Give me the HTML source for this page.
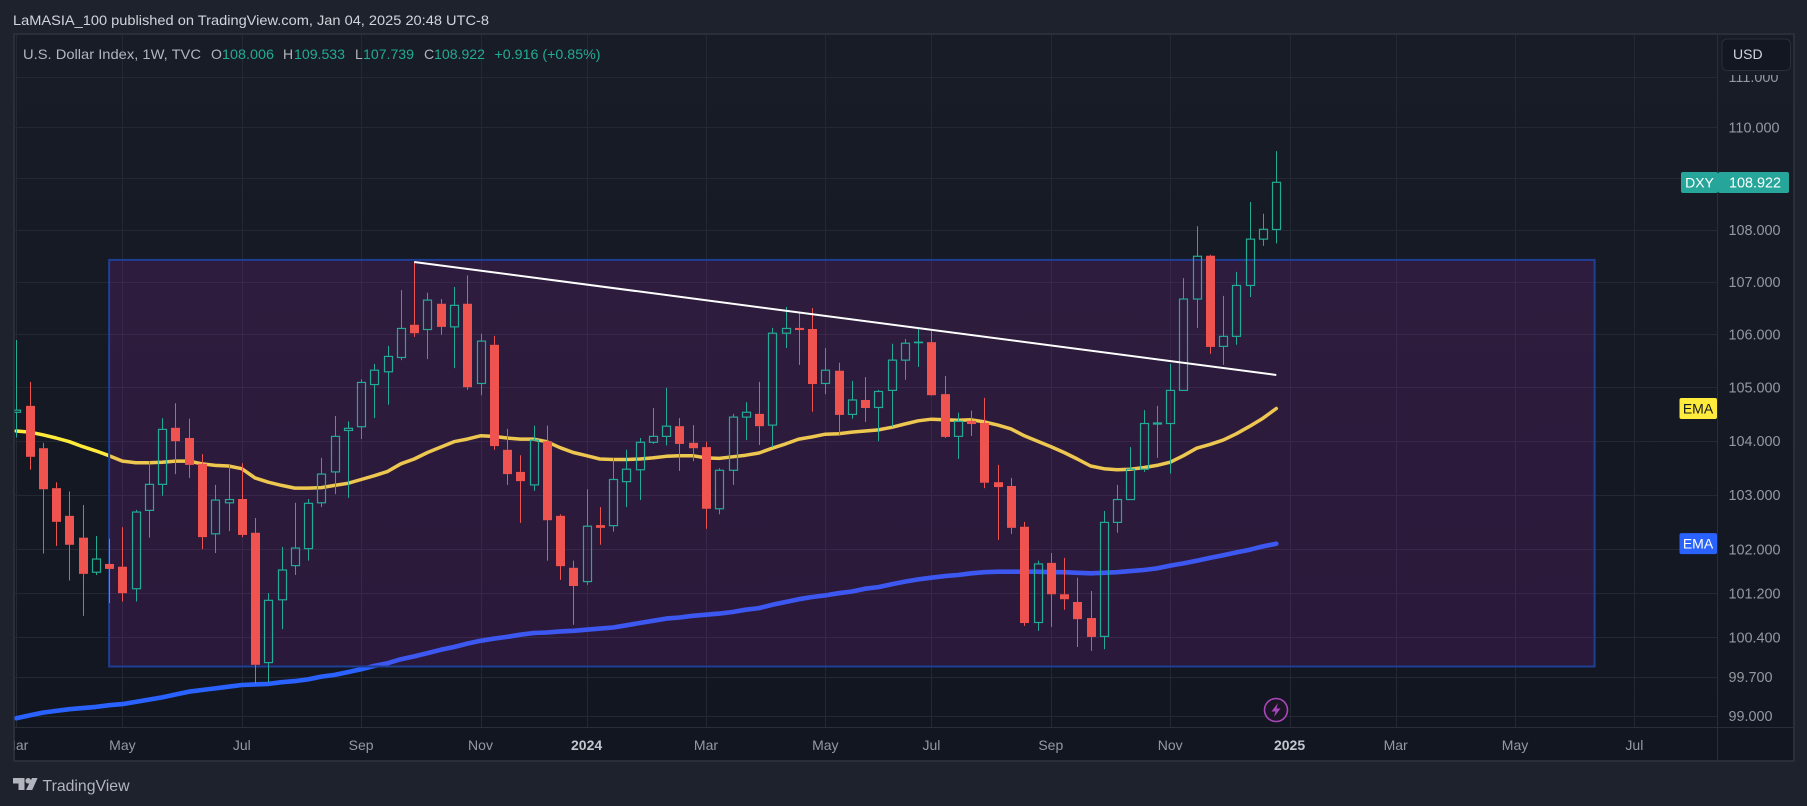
<!DOCTYPE html>
<html lang="en">
<head>
<meta charset="utf-8">
<title>U.S. Dollar Index weekly chart</title>
<style>
html,body{margin:0;padding:0;background:#1e222d;width:1807px;height:806px;overflow:hidden}
svg{display:block}
text{font-family:"Liberation Sans",sans-serif}
</style>
</head>
<body>
<svg id="chart" xmlns="http://www.w3.org/2000/svg" width="1807" height="806" viewBox="0 0 1807 806">
  <defs>
    <linearGradient id="paneBg" x1="0" y1="0" x2="0" y2="1">
      <stop offset="0" stop-color="#181c27"/>
      <stop offset="1" stop-color="#121620"/>
    </linearGradient>
    <clipPath id="paneClip"><rect x="14.5" y="35" width="1702.5" height="692"/></clipPath>
    <clipPath id="timeClip"><rect x="14.5" y="728" width="1702.5" height="32"/></clipPath>
  </defs>
  <rect x="0" y="0" width="1807" height="806" fill="#1e222d"/>
  <text x="13" y="25" font-size="14" fill="#d1d4dc" textLength="476" lengthAdjust="spacingAndGlyphs">LaMASIA_100 published on TradingView.com, Jan 04, 2025 20:48 UTC-8</text>
  <rect x="14" y="34" width="1780" height="727" fill="url(#paneBg)" stroke="#2a2e39" stroke-width="2"/>

  <g id="gridLayer" clip-path="url(#paneClip)"></g>
  <g id="emaLayer" clip-path="url(#paneClip)"></g>
  <g id="zoneLayer" clip-path="url(#paneClip)"></g>
  <g id="candleLayer" clip-path="url(#paneClip)"></g>
  <g id="trendLayer" clip-path="url(#paneClip)"></g>

  <line x1="1717.5" y1="35" x2="1717.5" y2="760" stroke="#2a2e39" stroke-width="1"/>
  <line x1="15" y1="727.5" x2="1793" y2="727.5" stroke="#2a2e39" stroke-width="1"/>
  <g id="priceLabels"></g>
  <g id="timeLabels" clip-path="url(#timeClip)"></g>

  <g font-size="14">
    <text x="23" y="59" fill="#b2b5be" textLength="178" lengthAdjust="spacingAndGlyphs">U.S. Dollar Index, 1W, TVC</text>
    <text x="211" y="59" fill="#b2b5be">O</text>
    <text x="222" y="59" fill="#22ab94" textLength="52" lengthAdjust="spacingAndGlyphs">108.006</text>
    <text x="283" y="59" fill="#b2b5be">H</text>
    <text x="294" y="59" fill="#22ab94" textLength="51" lengthAdjust="spacingAndGlyphs">109.533</text>
    <text x="355" y="59" fill="#b2b5be">L</text>
    <text x="363" y="59" fill="#22ab94" textLength="51" lengthAdjust="spacingAndGlyphs">107.739</text>
    <text x="424" y="59" fill="#b2b5be">C</text>
    <text x="434" y="59" fill="#22ab94" textLength="51" lengthAdjust="spacingAndGlyphs">108.922</text>
    <text x="494.5" y="59" fill="#22ab94" textLength="106" lengthAdjust="spacingAndGlyphs">+0.916 (+0.85%)</text>
  </g>

  <g>
    <rect x="1719" y="36" width="74" height="39" fill="#181c27"/>
    <rect x="1722" y="39" width="68.5" height="31.5" rx="5" fill="#131722" stroke="#2a2e39" stroke-width="1"/>
    <text x="1733" y="59" font-size="14" fill="#d1d4dc">USD</text>
  </g>

  <g>
    <rect x="1681" y="172" width="37" height="21" rx="2" fill="#26a69a"/>
    <text x="1699.5" y="187.5" font-size="14" fill="#ffffff" text-anchor="middle">DXY</text>
    <rect x="1718" y="172" width="71" height="21" rx="2" fill="#26a69a"/>
    <text x="1729" y="187.5" font-size="14.4" fill="#ffffff">108.922</text>
  </g>
  <g id="emaBadges"></g>

  <g>
    <circle cx="1276" cy="710" r="11.5" fill="#1b1626" stroke="#ab47bc" stroke-width="1.6"/>
    <polygon points="1278,703 1271.5,711.5 1275.5,711.5 1274,717 1280.5,708.5 1276.5,708.5" fill="#ab47bc"/>
  </g>

  <g>
    <polygon points="13,778 24.5,778 24.5,790 18.5,790 18.5,783.5 13,783.5" fill="#b2b5be"/>
    <circle cx="28.2" cy="780.8" r="2.8" fill="#b2b5be"/>
    <polygon points="32,778 37.6,778 32.2,790 26,790" fill="#b2b5be"/>
    <text x="42.5" y="791" font-size="16" fill="#b2b5be" textLength="87" lengthAdjust="spacingAndGlyphs">TradingView</text>
  </g>
</svg>

<script>
// ---- data ----
const opens = [104.53,104.65,103.86,103.12,102.61,102.21,101.58,101.73,101.68,101.28,102.71,103.19,104.24,104.05,103.57,102.28,102.85,102.92,102.30,99.95,101.08,101.70,102.01,102.85,103.42,104.19,104.26,105.05,105.29,105.56,106.18,106.09,106.58,106.14,106.58,105.07,105.80,103.83,103.42,103.18,103.99,102.61,101.66,101.41,102.44,102.43,103.24,103.46,103.97,104.08,104.27,103.96,103.88,102.74,103.45,104.44,104.50,104.29,106.02,106.12,106.10,105.07,105.31,104.49,104.76,104.62,104.94,105.51,105.84,105.85,104.87,104.08,104.37,104.33,103.23,103.16,102.41,100.67,101.75,101.18,101.04,100.75,100.42,102.49,102.91,103.47,104.31,104.32,104.94,106.67,107.50,105.77,105.96,106.93,107.82,108.006];
const highs = [105.89,105.10,103.96,103.23,103.06,102.81,102.24,102.19,102.40,102.72,103.62,104.42,104.70,104.41,103.75,103.18,103.55,103.58,102.57,101.20,102.04,102.85,102.92,103.68,104.46,104.36,105.15,105.44,105.78,106.84,107.38,106.79,106.67,106.90,107.12,106.01,105.97,104.22,103.73,104.28,104.28,102.64,101.79,103.10,102.77,103.68,103.83,104.05,104.61,104.99,104.42,104.29,103.98,103.49,104.50,104.72,105.10,106.12,106.52,106.41,106.50,105.74,105.46,105.12,105.19,104.95,105.82,105.91,106.13,106.06,105.21,104.52,104.56,104.80,103.55,103.31,102.50,101.79,101.93,101.84,101.48,101.24,102.70,103.18,103.88,104.57,104.65,105.44,107.07,108.07,107.52,106.73,107.19,108.54,108.31,109.533];
const lows = [104.06,103.46,101.92,102.06,101.43,100.79,101.53,101.02,101.05,101.05,102.21,102.98,103.38,103.31,102.00,101.93,102.33,102.22,99.58,99.60,100.55,101.53,101.79,102.77,103.01,102.94,104.03,104.42,104.67,105.51,105.95,105.53,105.99,105.36,104.95,104.85,103.83,103.18,102.48,103.07,101.79,101.44,100.63,101.35,102.08,102.32,102.77,102.90,103.94,103.91,103.44,103.62,102.37,102.64,103.18,104.01,103.92,103.88,105.74,105.42,104.54,104.87,104.09,104.41,104.35,103.99,104.26,105.14,105.38,104.84,104.05,103.66,104.09,103.12,102.17,102.28,100.61,100.52,100.59,100.90,100.23,100.16,100.19,102.30,102.91,103.42,103.68,103.39,104.93,106.12,105.63,105.42,105.80,106.71,107.69,107.739];
const closes = [104.57,103.70,103.10,102.50,102.08,101.55,101.82,101.64,101.20,102.68,103.19,104.21,103.99,103.55,102.22,102.90,102.91,102.26,99.91,101.07,101.62,102.02,102.84,103.38,104.08,104.23,105.09,105.32,105.58,106.11,106.02,106.65,106.14,106.55,105.00,105.87,103.90,103.38,103.25,104.01,102.53,101.69,101.33,102.42,102.39,103.28,103.47,103.97,104.08,104.27,103.94,103.86,102.74,103.45,104.44,104.53,104.27,106.02,106.11,106.08,105.06,105.32,104.48,104.76,104.61,104.92,105.51,105.83,105.85,104.85,104.07,104.36,104.31,103.22,103.14,102.39,100.66,101.73,101.18,101.09,100.73,100.41,102.49,102.91,103.47,104.32,104.33,104.94,106.67,107.49,105.76,105.96,106.93,107.82,108.01,108.922];
const emaFast = [104.18,104.16,104.11,104.05,103.98,103.89,103.81,103.72,103.62,103.59,103.59,103.60,103.62,103.62,103.57,103.54,103.53,103.48,103.31,103.23,103.17,103.12,103.12,103.13,103.17,103.21,103.28,103.35,103.43,103.57,103.66,103.78,103.88,103.98,104.03,104.09,104.08,104.05,104.03,104.03,103.98,103.87,103.78,103.72,103.66,103.65,103.65,103.66,103.68,103.71,103.72,103.72,103.68,103.67,103.70,103.73,103.77,103.86,103.94,104.03,104.07,104.12,104.13,104.16,104.18,104.20,104.25,104.31,104.37,104.40,104.39,104.38,104.39,104.35,104.29,104.22,104.09,103.99,103.89,103.78,103.66,103.53,103.48,103.46,103.47,103.50,103.54,103.60,103.72,103.86,103.93,104.01,104.13,104.27,104.42,104.60];
const emaSlow = [98.96,99.01,99.06,99.09,99.12,99.14,99.16,99.19,99.21,99.25,99.29,99.33,99.38,99.43,99.46,99.49,99.52,99.55,99.56,99.57,99.60,99.62,99.65,99.70,99.73,99.78,99.83,99.89,99.94,100.01,100.06,100.12,100.18,100.23,100.29,100.34,100.38,100.41,100.45,100.48,100.49,100.51,100.52,100.54,100.56,100.58,100.62,100.66,100.70,100.74,100.76,100.79,100.81,100.83,100.86,100.90,100.93,100.99,101.04,101.09,101.13,101.16,101.20,101.23,101.28,101.31,101.36,101.41,101.45,101.48,101.51,101.53,101.56,101.58,101.59,101.59,101.59,101.59,101.58,101.58,101.57,101.56,101.57,101.58,101.60,101.62,101.65,101.70,101.74,101.79,101.84,101.89,101.94,101.99,102.05,102.10];
const priceTicks = [111,110,109,108,107,106,105,104,103,102,101.2,100.4,99.7,99];
const timeTickIndex = [0,8,17,26,35,43,52,61,69,78,87,96,104,113,122];
const timeTickLabel = ["Mar","May","Jul","Sep","Nov","2024","Mar","May","Jul","Sep","Nov","2025","Mar","May","Jul"];
const timeTickBold = ["2024","2025"];
const zoneIndex = [7,119];
const zonePrice = [107.42,99.88];
const trendIndex = [30,95];
const trendPrice = [107.38,105.23];

// ---- axis functions ----
const xScale = i => 16.3 + 13.263 * i;
const yScale = p => 127.3 + 5587 * Math.log(110 / p);

const NS = 'http://www.w3.org/2000/svg';
const UP = '#22ab94', DOWN = '#ef5350';
const make = (tag, parent, attrs) => {
  const el = document.createElementNS(NS, tag);
  for (const k in attrs) el.setAttribute(k, attrs[k]);
  parent.appendChild(el);
  return el;
};
const gridLayer = document.getElementById('gridLayer');
const emaLayer = document.getElementById('emaLayer');
const zoneLayer = document.getElementById('zoneLayer');
const candleLayer = document.getElementById('candleLayer');
const trendLayer = document.getElementById('trendLayer');
const priceLabels = document.getElementById('priceLabels');
const timeLabels = document.getElementById('timeLabels');
const emaBadges = document.getElementById('emaBadges');

// grid and tick labels
priceTicks.forEach(p => {
  const y = Math.round(yScale(p)) + 0.5;
  const g = make('line', gridLayer, {x1: 14, x2: 1717, y1: y, y2: y, stroke: '#242833', 'stroke-width': 1});
  
  
  const t = make('text', priceLabels, {x: 1728.5, y: yScale(p) + 5.2, 'font-size': 14.4, fill: '#9598a1'});
  
  
  t.textContent = p.toFixed(3);
});
timeTickIndex.forEach((idx, n) => {
  const x = xScale(idx);
  const g = make('line', gridLayer, {x1: Math.round(x) + 0.5, x2: Math.round(x) + 0.5, y1: 35, y2: 727, stroke: '#242833', 'stroke-width': 1});
  
  
  const bold = timeTickBold.includes(timeTickLabel[n]);
  const t = make('text', timeLabels, {x: x, y: 750, 'font-size': 14, fill: bold ? '#c3c6ce' : '#9598a1', 'font-weight': bold ? 700 : 400, 'text-anchor': 'middle'});
  
  
  t.textContent = timeTickLabel[n];
});

// EMA lines
const linePoints = arr => arr.map((v, i) => xScale(i).toFixed(1) + ',' + yScale(v).toFixed(1)).join(' ');
const emaFastLine = make('polyline', emaLayer, {points: linePoints(emaFast), fill: 'none', stroke: '#ffeb3b', 'stroke-width': 3.5, 'stroke-linejoin': 'round', 'stroke-linecap': 'round'});


const emaSlowLine = make('polyline', emaLayer, {points: linePoints(emaSlow), fill: 'none', stroke: '#2962ff', 'stroke-width': 4.6, 'stroke-linejoin': 'round', 'stroke-linecap': 'round'});



// shaded range zone
const zx0 = xScale(zoneIndex[0]), zx1 = xScale(zoneIndex[1]);
const zy0 = yScale(zonePrice[0]), zy1 = yScale(zonePrice[1]);
const zone = make('rect', zoneLayer, {x: zx0, y: zy0, width: zx1 - zx0, height: zy1 - zy0, fill: 'rgba(156,39,176,0.18)', stroke: '#1f3f94', 'stroke-width': 2});



// candles
opens.forEach((o, i) => {
  const c = closes[i], h = highs[i], l = lows[i];
  const up = c >= o;
  const col = up ? UP : DOWN;
  const cx = Math.round(xScale(i)) + 0.5;
  const yTop = yScale(Math.max(o, c)), yBot = yScale(Math.min(o, c));
  const yH = yScale(h), yL = yScale(l);
  const group = make('g', candleLayer, {});
  
  
  if (yH < yTop) {
    const w1 = make('line', group, {x1: cx, x2: cx, y1: yH, y2: yTop, stroke: col, 'stroke-width': 1});
    
    
  }
  if (yL > yBot) {
    const w2 = make('line', group, {x1: cx, x2: cx, y1: yBot, y2: yL, stroke: col, 'stroke-width': 1});
    
    
  }
  const body = up
    ? make('rect', group, {x: cx - 4, y: yTop, width: 8, height: Math.max(yBot - yTop, 0.2), fill: 'none', stroke: col, 'stroke-width': 1.2})
    : make('rect', group, {x: cx - 4.5, y: yTop, width: 9, height: Math.max(yBot - yTop, 1.5), fill: col});
  
  
});

// trend line
const trend = make('line', trendLayer, {x1: xScale(trendIndex[0]), y1: yScale(trendPrice[0]), x2: xScale(trendIndex[1]), y2: yScale(trendPrice[1]), stroke: '#ffffff', 'stroke-width': 2});



// EMA badges follow the last values
const lastFast = yScale(emaFast[emaFast.length - 1]);
const lastSlow = yScale(emaSlow[emaSlow.length - 1]);
const fastBadge = make('rect', emaBadges, {x: 1679.5, y: lastFast - 10.5, width: 37.5, height: 21, fill: '#ffeb3b', rx: 2});


const fastText = make('text', emaBadges, {x: 1698, y: lastFast + 5, 'font-size': 14, fill: '#131722', 'text-anchor': 'middle'});


fastText.textContent = 'EMA';
const slowBadge = make('rect', emaBadges, {x: 1679.5, y: lastSlow - 10.5, width: 37.5, height: 21, fill: '#2962ff', rx: 2});


const slowText = make('text', emaBadges, {x: 1698, y: lastSlow + 5, 'font-size': 14, fill: '#ffffff', 'text-anchor': 'middle'});


slowText.textContent = 'EMA';
</script>
</body>
</html>
